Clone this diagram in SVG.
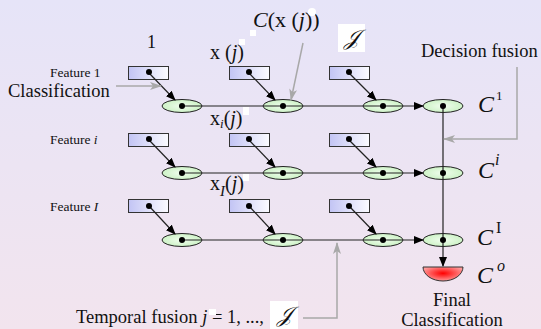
<svg xmlns="http://www.w3.org/2000/svg" width="541" height="329" viewBox="0 0 541 329">
<defs>
<linearGradient id="bg" x1="0" y1="0" x2="0" y2="1"><stop offset="0" stop-color="#e6e4f8"/><stop offset="1" stop-color="#f2e4ee"/></linearGradient>
<linearGradient id="rg" x1="0" y1="0" x2="1" y2="0"><stop offset="0" stop-color="#c2c4f4"/><stop offset="1" stop-color="#fbfbff"/></linearGradient>
<radialGradient id="eg" cx="0.5" cy="0.5" r="0.5"><stop offset="0" stop-color="#f0fdee"/><stop offset="1" stop-color="#cdf2c6"/></radialGradient>
<radialGradient id="hg" cx="0.5" cy="0.45" r="0.55"><stop offset="0" stop-color="#ff0000"/><stop offset="1" stop-color="#ff9a9a"/></radialGradient>
<marker id="ab" markerWidth="10" markerHeight="8" refX="9" refY="4" orient="auto" markerUnits="userSpaceOnUse"><path d="M0,0 L10,4 L0,8 Z" fill="#000"/></marker>
<marker id="ag" markerWidth="12" markerHeight="8" refX="11" refY="4" orient="auto" markerUnits="userSpaceOnUse"><path d="M0,0 L12,4 L0,8 L3,4 Z" fill="#a8a8a8"/></marker>
</defs>
<style>
.t{font-family:"Liberation Serif","Times New Roman",serif;fill:#111}
.r{fill:url(#rg);stroke:#333;stroke-width:1}
.e{fill:url(#eg);stroke:#222;stroke-width:1}
.d{fill:#000}
.c{stroke:#222;stroke-width:1.2;fill:none}
.g{stroke:#a8a8a8;stroke-width:1.5;fill:none}
.w{fill:#fff}
</style>
<rect width="541" height="329" fill="url(#bg)"/>

<g id="features">
<g id="f11"><rect class="r" x="128.5" y="66.5" width="40" height="13"/></g>
<g id="f12"><rect class="r" x="229.5" y="66.5" width="40" height="13"/></g>
<g id="f13"><rect class="r" x="329.5" y="66.5" width="40" height="13"/></g>
<g id="f21"><rect class="r" x="128.5" y="133.5" width="40" height="13"/></g>
<g id="f22"><rect class="r" x="229.5" y="133.5" width="40" height="13"/></g>
<g id="f23"><rect class="r" x="329.5" y="133.5" width="40" height="13"/></g>
<g id="f31"><rect class="r" x="128.5" y="199.5" width="40" height="13"/></g>
<g id="f32"><rect class="r" x="229.5" y="199.5" width="40" height="13"/></g>
<g id="f33"><rect class="r" x="329.5" y="199.5" width="40" height="13"/></g>
</g>

<g id="classifiers">
<g id="e11"><ellipse class="e" cx="182" cy="106" rx="20" ry="6.5"/></g>
<g id="e12"><ellipse class="e" cx="283" cy="106" rx="20" ry="6.5"/></g>
<g id="e13"><ellipse class="e" cx="383" cy="106" rx="20" ry="6.5"/></g>
<g id="e14"><ellipse class="e" cx="443" cy="106" rx="20" ry="6.5"/></g>
<g id="e21"><ellipse class="e" cx="182" cy="173" rx="20" ry="6.5"/></g>
<g id="e22"><ellipse class="e" cx="283" cy="173" rx="20" ry="6.5"/></g>
<g id="e23"><ellipse class="e" cx="383" cy="173" rx="20" ry="6.5"/></g>
<g id="e24"><ellipse class="e" cx="443" cy="173" rx="20" ry="6.5"/></g>
<g id="e31"><ellipse class="e" cx="182" cy="240" rx="20" ry="6.5"/></g>
<g id="e32"><ellipse class="e" cx="283" cy="240" rx="20" ry="6.5"/></g>
<g id="e33"><ellipse class="e" cx="383" cy="240" rx="20" ry="6.5"/></g>
<g id="e34"><ellipse class="e" cx="443" cy="240" rx="20" ry="6.5"/></g>
<g id="final"><path d="M423,267 A20,14 0 0 0 463,267 Z" fill="url(#hg)" stroke="#333" stroke-width="1"/></g>
</g>

<g id="connectors">
<line class="c" x1="182" y1="106" x2="423" y2="106" marker-end="url(#ab)"/>
<line class="c" x1="182" y1="173" x2="423" y2="173" marker-end="url(#ab)"/>
<line class="c" x1="182" y1="240" x2="423" y2="240" marker-end="url(#ab)"/>
<line class="c" x1="443" y1="106" x2="443" y2="266" marker-end="url(#ab)"/>
<line class="c" x1="149" y1="73" x2="175" y2="100" marker-end="url(#ab)"/>
<line class="c" x1="249" y1="73" x2="275" y2="100" marker-end="url(#ab)"/>
<line class="c" x1="349" y1="73" x2="376" y2="100" marker-end="url(#ab)"/>
<line class="c" x1="149" y1="140" x2="175" y2="167" marker-end="url(#ab)"/>
<line class="c" x1="249" y1="140" x2="275" y2="167" marker-end="url(#ab)"/>
<line class="c" x1="349" y1="140" x2="376" y2="167" marker-end="url(#ab)"/>
<line class="c" x1="149" y1="206" x2="175" y2="234" marker-end="url(#ab)"/>
<line class="c" x1="249" y1="206" x2="275" y2="234" marker-end="url(#ab)"/>
<line class="c" x1="349" y1="206" x2="376" y2="234" marker-end="url(#ab)"/>
<line class="g" x1="116" y1="86" x2="161" y2="86" marker-end="url(#ag)"/>
<line class="g" x1="303" y1="43" x2="291" y2="100" marker-end="url(#ag)"/>
<polyline class="g" points="517,67 517,139 444,139" marker-end="url(#ag)"/>
<polyline class="g" points="303,318 337,318 337,243" marker-end="url(#ag)"/>
</g>

<g id="dots">
<circle class="d" cx="149" cy="72" r="3"/><circle class="d" cx="249" cy="72" r="3"/><circle class="d" cx="349" cy="72" r="3"/>
<circle class="d" cx="149" cy="139" r="3"/><circle class="d" cx="249" cy="139" r="3"/><circle class="d" cx="349" cy="139" r="3"/>
<circle class="d" cx="149" cy="206" r="3"/><circle class="d" cx="249" cy="206" r="3"/><circle class="d" cx="349" cy="206" r="3"/>
<circle class="d" cx="182" cy="106" r="3"/><circle class="d" cx="283" cy="106" r="3"/><circle class="d" cx="383" cy="106" r="3"/><circle class="d" cx="443" cy="106" r="3"/>
<circle class="d" cx="182" cy="173" r="3"/><circle class="d" cx="283" cy="173" r="3"/><circle class="d" cx="383" cy="173" r="3"/><circle class="d" cx="443" cy="173" r="3"/>
<circle class="d" cx="182" cy="240" r="3"/><circle class="d" cx="283" cy="240" r="3"/><circle class="d" cx="383" cy="240" r="3"/><circle class="d" cx="443" cy="240" r="3"/>
</g>

<g id="labels">
<text class="t" x="50" y="77" font-size="13.5">Feature 1</text>
<text class="t" x="8" y="97" font-size="18.5">Classification</text>
<text class="t" x="50" y="144" font-size="13.5">Feature <tspan font-style="italic">i</tspan></text>
<text class="t" x="50" y="211" font-size="13.5">Feature <tspan font-style="italic">I</tspan></text>
<text class="t" x="147" y="48" font-size="18">1</text>
<text class="t" x="210" y="59" font-size="20">x (<tspan font-style="italic">j</tspan>)</text>
<rect class="w" x="239" y="39" width="6" height="6"/>
<rect class="w" x="250" y="30" width="6" height="6"/>
<text class="t" x="253" y="27" font-size="22"><tspan font-style="italic">C</tspan>(x (<tspan font-style="italic">j</tspan>))</text>
<circle class="w" cx="312" cy="12" r="4"/>
<rect class="w" x="338" y="24" width="27" height="28"/>
<text class="t" x="351.5" y="45" font-size="22" font-style="italic" text-anchor="middle">𝒥</text>
<text class="t" x="210" y="125" font-size="20">x<tspan font-size="13" font-style="italic" dy="3">i</tspan><tspan dy="-3">(</tspan><tspan font-style="italic">j</tspan>)</text>
<rect class="w" x="243" y="107" width="6" height="8"/>
<text class="t" x="210" y="190" font-size="20">x<tspan font-size="15" font-style="italic" dy="6">I</tspan><tspan dy="-6">(</tspan><tspan font-style="italic">j</tspan>)</text>
<rect class="w" x="243" y="174" width="6" height="7"/>
<text class="t" x="421" y="57" font-size="18.5">Decision fusion</text>
<text class="t" x="478" y="112" font-size="24" font-style="italic">C</text>
<text class="t" x="496" y="100" font-size="13">1</text>
<text class="t" x="478" y="178" font-size="24" font-style="italic">C</text>
<text class="t" x="495" y="165" font-size="16" font-style="italic">i</text>
<text class="t" x="477" y="245" font-size="24" font-style="italic">C</text>
<text class="t" x="496" y="233" font-size="16">I</text>
<text class="t" x="477" y="283" font-size="24" font-style="italic">C</text>
<text class="t" x="497" y="271" font-size="16" font-style="italic">o</text>
<text class="t" x="452" y="306" font-size="18.5" text-anchor="middle">Final</text>
<text class="t" x="452" y="326" font-size="18.5" text-anchor="middle">Classification</text>
<text class="t" x="76" y="323" font-size="18.5">Temporal fusion  <tspan font-style="italic">j</tspan> = 1, ...,</text>
<rect class="w" x="209" y="309" width="7" height="6"/>
<rect class="w" x="270" y="301" width="28" height="28"/>
<text class="t" x="284" y="322" font-size="22" font-style="italic" text-anchor="middle">𝒥</text>
</g>
</svg>
